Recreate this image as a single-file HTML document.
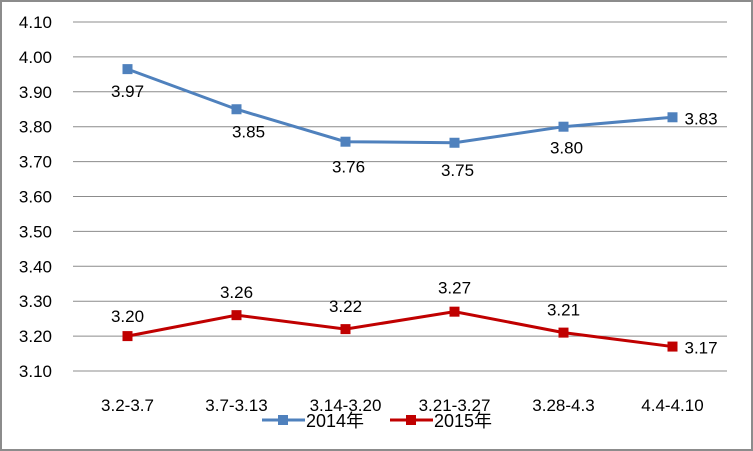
<!DOCTYPE html>
<html><head><meta charset="utf-8"><style>
body{margin:0;background:#fff}
svg{display:block;font-family:"Liberation Sans","Noto Sans CJK SC",sans-serif}
</style></head><body>
<svg width="753" height="451">
<rect x="1" y="1" width="751" height="449" fill="#fff" stroke="#8c8c8c" stroke-width="2"/>
<g id="grid"></g>
<g id="yt"></g>
<g id="xt"></g>
<g id="series"></g>
<g>
<g>
<line x1="262" y1="420" x2="305" y2="420" stroke="#4f81bd" stroke-width="3"/>
<rect x="278" y="415" width="10" height="10" fill="#4f81bd"/>
<text x="306" y="427" font-size="18">2014年</text></g>
<g>
<line x1="390" y1="420" x2="433" y2="420" stroke="#c00000" stroke-width="3"/>
<rect x="406" y="415" width="10" height="10" fill="#c00000"/>
<text x="434" y="427" font-size="18">2015年</text></g>
</g>
</svg>
<script>
const categories=["3.2-3.7","3.7-3.13","3.14-3.20","3.21-3.27","3.28-4.3","4.4-4.10"];
const s2014=[3.965,3.85,3.757,3.754,3.80,3.827];
const s2015=[3.20,3.26,3.22,3.27,3.21,3.17];
const labels2014=["3.97","3.85","3.76","3.75","3.80","3.83"];
const labels2015=["3.20","3.26","3.22","3.27","3.21","3.17"];
const yTicks=[3.10,3.20,3.30,3.40,3.50,3.60,3.70,3.80,3.90,4.00,4.10];
const X0=73,X1=727,YMIN=3.10,YMAX=4.10,PY0=371,PY1=22;
const x=i=>X0+(X1-X0)/categories.length*(i+0.5);
const y=v=>PY0-(v-YMIN)/(YMAX-YMIN)*(PY0-PY1);
const NS="http://www.w3.org/2000/svg";
function mk(tag,attrs,parent,txt){const e=document.createElementNS(NS,tag);for(const k in attrs)e.setAttribute(k,attrs[k]);if(txt!=null)e.textContent=txt;parent.appendChild(e);return e;}
const grid=document.getElementById('grid'),yt=document.getElementById('yt'),xt=document.getElementById('xt'),sg=document.getElementById('series');
yTicks.forEach(t=>{
 const l=mk('line',{x1:X0,x2:X1,y1:y(t),y2:y(t),stroke:'#8c8c8c','stroke-width':1},grid);
 
 
 const tx=mk('text',{x:52,y:y(t)+6,'font-size':17,'text-anchor':'end'},yt,t.toFixed(2));
 
 
});
categories.forEach((c,i)=>{
 const tx=mk('text',{x:x(i),y:411,'font-size':17,'text-anchor':'middle'},xt,c);
 
 
});
function draw(vals,labs,color,name,offs){
 const g=mk('g',{},sg);
 
 
 const p=mk('polyline',{points:vals.map((v,i)=>x(i)+','+y(v)).join(' '),fill:'none',stroke:color,'stroke-width':3},g);
 
 
 vals.forEach((v,i)=>{
  const r=mk('rect',{x:x(i)-5,y:y(v)-5,width:10,height:10,fill:color},g);
  
  
  const o=offs[i];
  const t=mk('text',{x:x(i)+o[0],y:y(v)+o[1],'font-size':17,'text-anchor':o[2]||'middle'},g,labs[i]);
  
  
 });
}
draw(s2014,labels2014,'#4f81bd','series-2014',[[0,28],[12,28],[3,31],[3,33],[3,27],[12,7,'start']]);
draw(s2015,labels2015,'#c00000','series-2015',[[0,-14],[0,-17],[0,-17],[0,-18],[0,-17],[12,7,'start']]);
</script>
</body></html>
